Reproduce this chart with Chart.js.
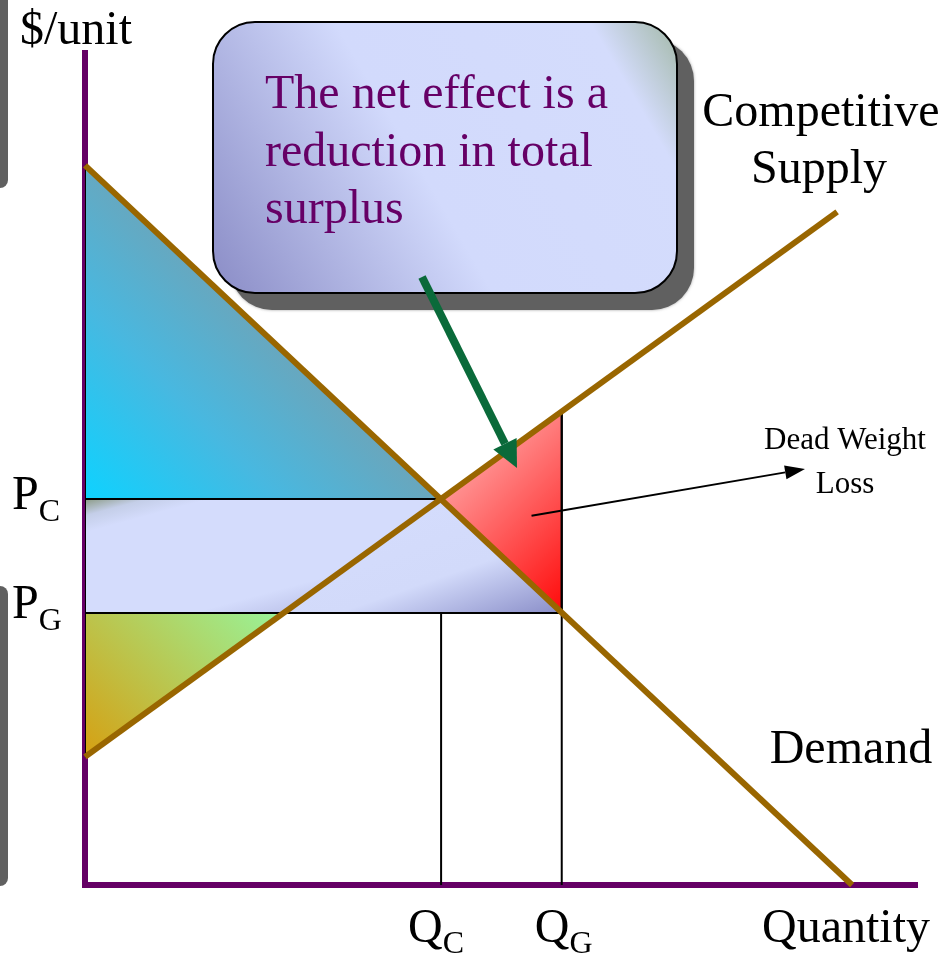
<!DOCTYPE html>
<html>
<head>
<meta charset="utf-8">
<script src="https://cdn.jsdelivr.net/npm/chart.js@4.4.1/dist/chart.umd.min.js"></script>
<style>
  html, body { margin: 0; padding: 0; background: #fff; overflow: hidden; }
  #wrap { width: 951px; height: 955px; }
</style>
</head>
<body>
<div id="wrap"><canvas id="chart" width="951" height="955"></canvas></div>
<script>
// curves (quantity, price)
const demandQ = [0, 92.2];
const demandP = [86.5, 0];
const supplyQ = [0, 90.4];
const supplyP = [15.4, 80.9];

// competitive (C) and government (G) quantity / price
const quantities = [42.8, 57.3];      // QC, QG
const prices = [46.4, 32.7];          // PC, PG
const supplyAtQG = 56.9;              // supply price at QG
const supplyQAtPG = 23.9;             // quantity supplied at PG
const qLabels = ['C', 'G'];
const pLabels = ['C', 'G'];

const [QC, QG] = quantities;
const [PC, PG] = prices;

const pts = (qs, ps) => qs.map((q, i) => ({ x: q, y: ps[i] }));

const consumerPoly = pts([0, 0, QC, 0], [demandP[0], PC, PC, demandP[0]]);
const bandRect = pts([0, QC, QC, 0, 0], [PC, PC, PG, PG, PC]);
const bandTri = pts([QC, QG, supplyQAtPG, QC], [PC, PG, PG, PC]);
const producerPoly = pts([0, 0, supplyQAtPG, 0], [supplyP[0], PG, PG, supplyP[0]]);
const dwlPoly = pts([QC, QG, QG, QC], [PC, supplyAtQG, PG, PC]);

const BROWN = '#996600';
const PURPLE = '#660066';
const SERIF = '"Liberation Serif", "Times New Roman", serif';

// linear gradient over a polygon's pixel box; dir is a pixel direction vector
function polyGrad(chart, poly, stops, dir) {
  const { ctx, chartArea, scales } = chart;
  if (!chartArea) return stops[0][1];
  const xs = poly.map(p => scales.x.getPixelForValue(p.x));
  const ys = poly.map(p => scales.y.getPixelForValue(p.y));
  const len = Math.hypot(dir[0], dir[1]);
  const ux = dir[0] / len, uy = dir[1] / len;
  const proj = xs.map((x, i) => x * ux + ys[i] * uy);
  const i0 = proj.indexOf(Math.min(...proj));
  const t1 = Math.max(...proj) - proj[i0];
  const g = ctx.createLinearGradient(xs[i0], ys[i0], xs[i0] + ux * t1, ys[i0] + uy * t1);
  stops.forEach(s => g.addColorStop(s[0], s[1]));
  return g;
}

function area(poly, stops, dir, order) {
  return {
    data: poly,
    showLine: true,
    fill: 'shape',
    borderColor: '#000',
    borderWidth: 2,
    pointRadius: 0,
    order: order || 3,
    backgroundColor: (c) => polyGrad(c.chart, poly, stops, dir)
  };
}

function guide(poly) {
  return {
    data: poly, showLine: true, fill: false, borderColor: '#000',
    borderWidth: 2, pointRadius: 0, order: 1
  };
}

function subText(ctx, main, sub, x, y, size, subSize, drop) {
  ctx.font = size + 'px ' + SERIF;
  ctx.fillText(main, x, y);
  const w = ctx.measureText(main).width;
  ctx.font = subSize + 'px ' + SERIF;
  ctx.fillText(sub, x + w, y + drop);
}

function roundRect(ctx, x, y, w, h, r) {
  ctx.beginPath();
  ctx.moveTo(x + r, y);
  ctx.arcTo(x + w, y, x + w, y + h, r);
  ctx.arcTo(x + w, y + h, x, y + h, r);
  ctx.arcTo(x, y + h, x, y, r);
  ctx.arcTo(x, y, x + w, y, r);
  ctx.closePath();
}

function arrow(ctx, x0, y0, x1, y1, width, headLen, headHalf, color) {
  const dx = x1 - x0, dy = y1 - y0;
  const len = Math.hypot(dx, dy);
  const ux = dx / len, uy = dy / len;
  const bx = x1 - ux * headLen, by = y1 - uy * headLen;
  ctx.strokeStyle = color;
  ctx.fillStyle = color;
  ctx.lineWidth = width;
  ctx.beginPath();
  ctx.moveTo(x0, y0);
  ctx.lineTo(bx, by);
  ctx.stroke();
  ctx.beginPath();
  ctx.moveTo(x1, y1);
  ctx.lineTo(bx - uy * headHalf, by + ux * headHalf);
  ctx.lineTo(bx + uy * headHalf, by - ux * headHalf);
  ctx.closePath();
  ctx.fill();
}

const annotations = {
  id: 'annotations',
  afterDraw(chart) {
    const { ctx, scales } = chart;
    const xs = scales.x, ys = scales.y;
    ctx.save();

    // grey slide shapes on the left edge
    ctx.fillStyle = '#606060';
    roundRect(ctx, -20, -20, 28, 208, 8); ctx.fill();
    roundRect(ctx, -20, 586, 28, 300, 8); ctx.fill();

    // callout box with its shadow
    const bx = 213, by = 22, bw = 464, bh = 271;
    ctx.save();
    ctx.shadowColor = 'rgba(96,96,96,0.6)';
    ctx.shadowBlur = 3;
    ctx.fillStyle = '#606060';
    roundRect(ctx, bx + 17, by + 17, bw, bh, 42); ctx.fill();
    ctx.restore();
    const g = ctx.createLinearGradient(bx, by + bh, bx + bw, by);
    g.addColorStop(0, '#8a8cc6');
    g.addColorStop(0.45, '#d2dafc');
    g.addColorStop(0.86, '#d4dcfc');
    g.addColorStop(1, '#a2b8a6');
    ctx.fillStyle = g;
    roundRect(ctx, bx, by, bw, bh, 42); ctx.fill();
    ctx.strokeStyle = '#000'; ctx.lineWidth = 2; ctx.stroke();

    ctx.fillStyle = PURPLE;
    ctx.font = '48px ' + SERIF;
    ctx.textBaseline = 'alphabetic';
    ['The net effect is a', 'reduction in total', 'surplus'].forEach((t, i) => {
      ctx.fillText(t, 265, 108 + i * 57.5);
    });

    // green arrow from callout to dead weight loss
    arrow(ctx, 422, 277, 517, 468, 8, 27, 13, '#0a6a3a');

    // dead weight loss pointer
    const cx = xs.getPixelForValue((QC + 2 * QG) / 3) + 10;
    const cy = ys.getPixelForValue((PC + supplyAtQG + PG) / 3) + 8;
    arrow(ctx, cx, cy, 805, 469, 2, 20, 7, '#000');

    ctx.fillStyle = '#000';
    ctx.font = '31px ' + SERIF;
    ctx.textAlign = 'center';
    ctx.fillText('Dead Weight', 845, 449);
    ctx.fillText('Loss', 845, 493);

    ctx.font = '48px ' + SERIF;
    ctx.fillText('Competitive', 821, 126);
    ctx.fillText('Supply', 819, 183);
    ctx.fillText('Demand', 851, 763);
    ctx.textAlign = 'left';
    ctx.fillText('$/unit', 20, 44);
    ctx.fillText('Quantity', 762, 942);

    // price labels
    subText(ctx, 'P', pLabels[0], 12, ys.getPixelForValue(PC) + 10, 48, 32, 12);
    subText(ctx, 'P', pLabels[1], 12, ys.getPixelForValue(PG) + 5, 48, 32, 12);
    // quantity labels
    subText(ctx, 'Q', qLabels[0], xs.getPixelForValue(QC) - 33, 942, 48, 32, 11);
    subText(ctx, 'Q', qLabels[1], xs.getPixelForValue(QG) - 27, 942, 48, 32, 11);

    ctx.restore();
  }
};

const data = {
  datasets: [
    { data: pts(demandQ, demandP), showLine: true, fill: false, borderColor: BROWN,
      borderWidth: 6, pointRadius: 0, order: 0, clip: false },
    { data: pts(supplyQ, supplyP), showLine: true, fill: false, borderColor: BROWN,
      borderWidth: 6, pointRadius: 0, order: 0, clip: false },
    guide(pts([QC, QC], [0, PG])),
    guide(pts([QG, QG], [0, supplyAtQG])),
    area(consumerPoly, [[0, '#0ed2ff'], [0.55, '#48b8e0'], [1, '#6aa6bc']], [1, -1]),
    area(bandTri, [[0, '#d4dcfc'], [0.5, '#d2dafa'], [1, '#8a8ec8']], [0.35, 1], 2),
    area(bandRect, [[0, '#8a9a84'], [0.08, '#c4cee8'], [0.16, '#d4dcfc'], [0.68, '#d4dcfc'], [1, '#9ea2d2']], [0.27, 1]),
    area(producerPoly, [[0, '#d6a012'], [1, '#98f49a']], [1, -1]),
    area(dwlPoly, [[0, '#ff9292'], [1, '#ff0a0a']], [1, 1])
  ]
};

const config = {
  type: 'scatter',
  data: data,
  options: {
    responsive: false,
    animation: false,
    layout: { padding: { left: 85, top: 53, right: 34, bottom: 70 } },
    plugins: { legend: { display: false }, tooltip: { enabled: false } },
    scales: {
      x: {
        type: 'linear', min: 0, max: 100,
        grid: { display: false },
        ticks: { display: false },
        border: { display: true, color: PURPLE, width: 6 },
        afterFit: (s) => { s.height = 0; }
      },
      y: {
        type: 'linear', min: 0, max: 100,
        grid: { display: false },
        ticks: { display: false },
        border: { display: true, color: PURPLE, width: 6 },
        afterFit: (s) => { s.width = 0; }
      }
    }
  },
  plugins: [annotations]
};

const canvas = document.getElementById('chart');
if (canvas) {
  new Chart(canvas.getContext('2d'), config);
} else {
  console.error('Canvas not found.');
}
</script>
</body>
</html>
